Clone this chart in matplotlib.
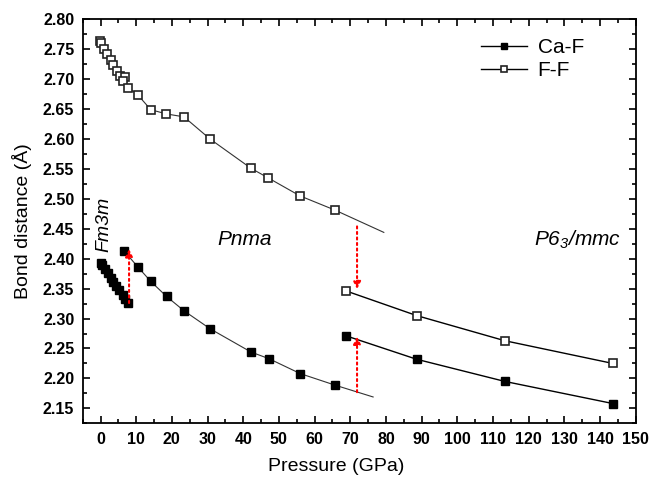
import matplotlib
matplotlib.use('Agg')
import matplotlib.pyplot as plt
from matplotlib.ticker import MultipleLocator, FormatStrFormatter

plt.rcParams['font.family'] = ['Liberation Sans', 'DejaVu Sans']
plt.rcParams['mathtext.default'] = 'regular'

# Fm3m phase
p_fm3m_caf = [0.0, 0.5, 1.2, 2.0, 2.8, 3.6, 4.4, 5.3, 6.2, 7.0, 7.8]
d_fm3m_caf = [2.393, 2.389, 2.383, 2.376, 2.368, 2.361, 2.354, 2.347, 2.339, 2.333, 2.326]

# F-F from 0 GPa through Pnma
p_ff1 = [-0.2, 0.2, 0.9, 1.9, 2.8, 3.5, 4.5, 5.4, 7.0, 6.3, 7.7, 10.4, 14.1, 18.4,
         23.4, 30.7, 42.2, 47.0, 55.9, 65.8]
d_ff1 = [2.764, 2.760, 2.750, 2.742, 2.732, 2.723, 2.714, 2.705, 2.703, 2.697, 2.686,
         2.674, 2.649, 2.642, 2.637, 2.600, 2.551, 2.535, 2.505, 2.481]
ff1_end = (79.4, 2.444)

# Pnma Ca-F
p_pnma_caf = [6.6, 10.5, 14.1, 18.5, 23.4, 30.7, 42.2, 47.2, 56.0, 65.6]
d_pnma_caf = [2.413, 2.386, 2.362, 2.337, 2.313, 2.283, 2.244, 2.233, 2.208, 2.189]
caf1_end = (76.4, 2.169)

# P63/mmc phase
p_hex = [68.9, 88.6, 113.3, 143.6]
d_hex_ff = [2.346, 2.305, 2.263, 2.225]
d_hex_caf = [2.271, 2.232, 2.195, 2.158]

# transition arrows (x, start, end)
arrows = [(8.0, 2.326, 2.416), (71.9, 2.454, 2.349), (71.9, 2.177, 2.270)]

fig = plt.figure(figsize=(6.51, 4.83), dpi=100)
ax = fig.add_axes([0.127, 0.1236, 0.8495, 0.8364])

ms = 6
ax.plot(p_fm3m_caf, d_fm3m_caf, '-s', color='black', lw=0.8, ms=ms,
        mfc='black', mec='black')
ax.plot(p_ff1 + [ff1_end[0]], d_ff1 + [ff1_end[1]], '-', color='#333333', lw=0.8)
ax.plot(p_ff1, d_ff1, 's', ms=ms, mfc='white', mec='#222222', mew=1.2)
ax.plot(p_pnma_caf + [caf1_end[0]], d_pnma_caf + [caf1_end[1]], '-', color='#333333', lw=0.8)
ax.plot(p_pnma_caf, d_pnma_caf, 's', ms=ms, mfc='black', mec='black')

ax.plot(p_hex, d_hex_caf, '-s', color='black', lw=1.0, ms=ms, mfc='black', mec='black',
        label='Ca-F')
ax.plot(p_hex, d_hex_ff, '-s', color='black', lw=1.0, ms=ms, mfc='white', mec='#222222',
        mew=1.2, label='F-F')

for x, y0, y1 in arrows:
    ax.annotate('', xy=(x, y1), xytext=(x, y0),
                arrowprops=dict(arrowstyle='-|>', color='red', lw=1.5, ls=':',
                                mutation_scale=11, shrinkA=0, shrinkB=0))

ax.text(1.0, 2.457, 'Fm3m', rotation=90, style='italic', fontsize=14,
        ha='center', va='center')
ax.text(40.4, 2.432, 'Pnma', style='italic', fontsize=15, ha='center', va='center')
ax.text(133.7, 2.432, 'P6$_3$/mmc', style='italic', fontsize=15, ha='center', va='center')

ax.set_xlim(-5, 150)
ax.set_ylim(2.125, 2.80)
ax.xaxis.set_major_locator(MultipleLocator(10))
ax.xaxis.set_minor_locator(MultipleLocator(5))
ax.yaxis.set_major_locator(MultipleLocator(0.05))
ax.yaxis.set_minor_locator(MultipleLocator(0.025))
ax.yaxis.set_major_formatter(FormatStrFormatter('%.2f'))
ax.tick_params(which='both', direction='in', top=True, right=True, width=1.2)
ax.tick_params(which='major', length=5, labelsize=11.5, pad=6)
ax.tick_params(which='minor', length=3)
for lab in ax.get_xticklabels() + ax.get_yticklabels():
    lab.set_fontweight('bold')
for s in ax.spines.values():
    s.set_linewidth(1.3)

ax.set_xlabel('Pressure (GPa)', fontsize=14)
ax.set_ylabel('Bond distance (Å)', fontsize=14, labelpad=8)
ax.xaxis.set_label_coords(0.458, -0.085)

ax.legend(loc='upper right', frameon=False, fontsize=15, numpoints=1,
          markerscale=0.75, handlelength=2.2, handletextpad=0.5,
          labelspacing=0.2, bbox_to_anchor=(0.94, 1.0))

fig.savefig('out.png', dpi=100)
